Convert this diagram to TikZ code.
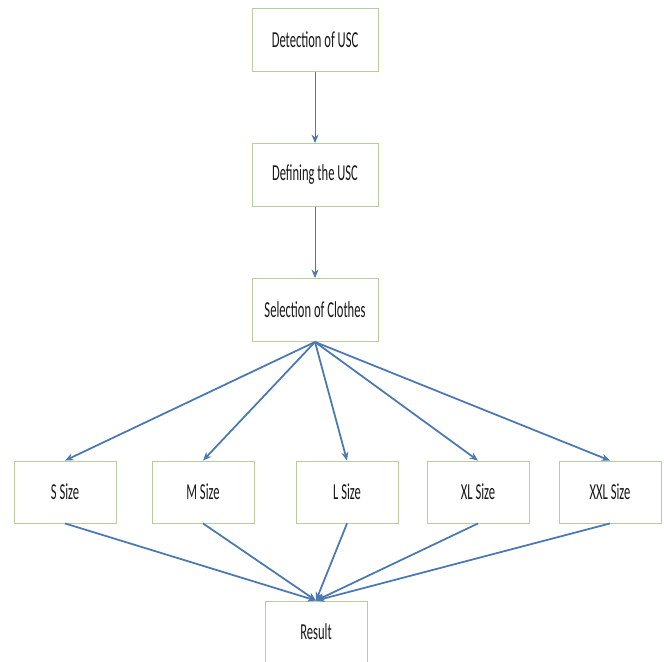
\documentclass[tikz,border=0pt]{standalone}
\usepackage{fontspec}
\usepackage{xcolor}
\usetikzlibrary{arrows.meta}
\newfontfamily\boxfont[FakeStretch=0.55]{Carlito}
\definecolor{boxline}{HTML}{B9CC9C}
\definecolor{flowblue}{HTML}{4A78B4}

\begin{document}
\begin{tikzpicture}[>={Stealth[length=1.7mm,width=1.4mm]},
    font=\boxfont\fontsize{13}{15}\selectfont,
    box/.style={draw=boxline,line width=0.5pt,fill=white,inner sep=0pt,
      minimum width=25.2mm,minimum height=12.6mm,align=center,text=black!90},
    sizebox/.style={box,minimum width=20.4mm,minimum height=12.4mm},
    flow/.style={->,flowblue,line width=0.5pt},
    fan/.style={->,flowblue,line width=1pt}]
    \useasboundingbox (0,0) rectangle (13.28,-13.22);

    \node[box] (detect) at (6.3,-0.8) {Detection of USC};
    \node[box] (define) at (6.3,-3.5) {Defining the USC};
    \node[box] (select) at (6.3,-6.2) {Selection of Clothes};
    \draw[flow] (detect)--(define);
    \draw[flow] (define)--(select);

    \node[sizebox] (ssize) at (1.3,-9.84) {S Size};
    \node[sizebox] (msize) at (4.06,-9.84) {M Size};
    \node[sizebox] (lsize) at (6.94,-9.84) {L Size};
    \node[sizebox] (xlsize) at (9.56,-9.84) {XL Size};
    \node[sizebox] (xxlsize) at (12.2,-9.84) {XXL Size};
    \node[sizebox] (result) at (6.32,-12.64) {Result};

    \foreach \s in {ssize,msize,lsize,xlsize,xxlsize} {
      \draw[fan] (select.south)--(\s.north);
      \draw[fan] (\s.south)--(result.north);
    }
  \end{tikzpicture}
\end{document}
